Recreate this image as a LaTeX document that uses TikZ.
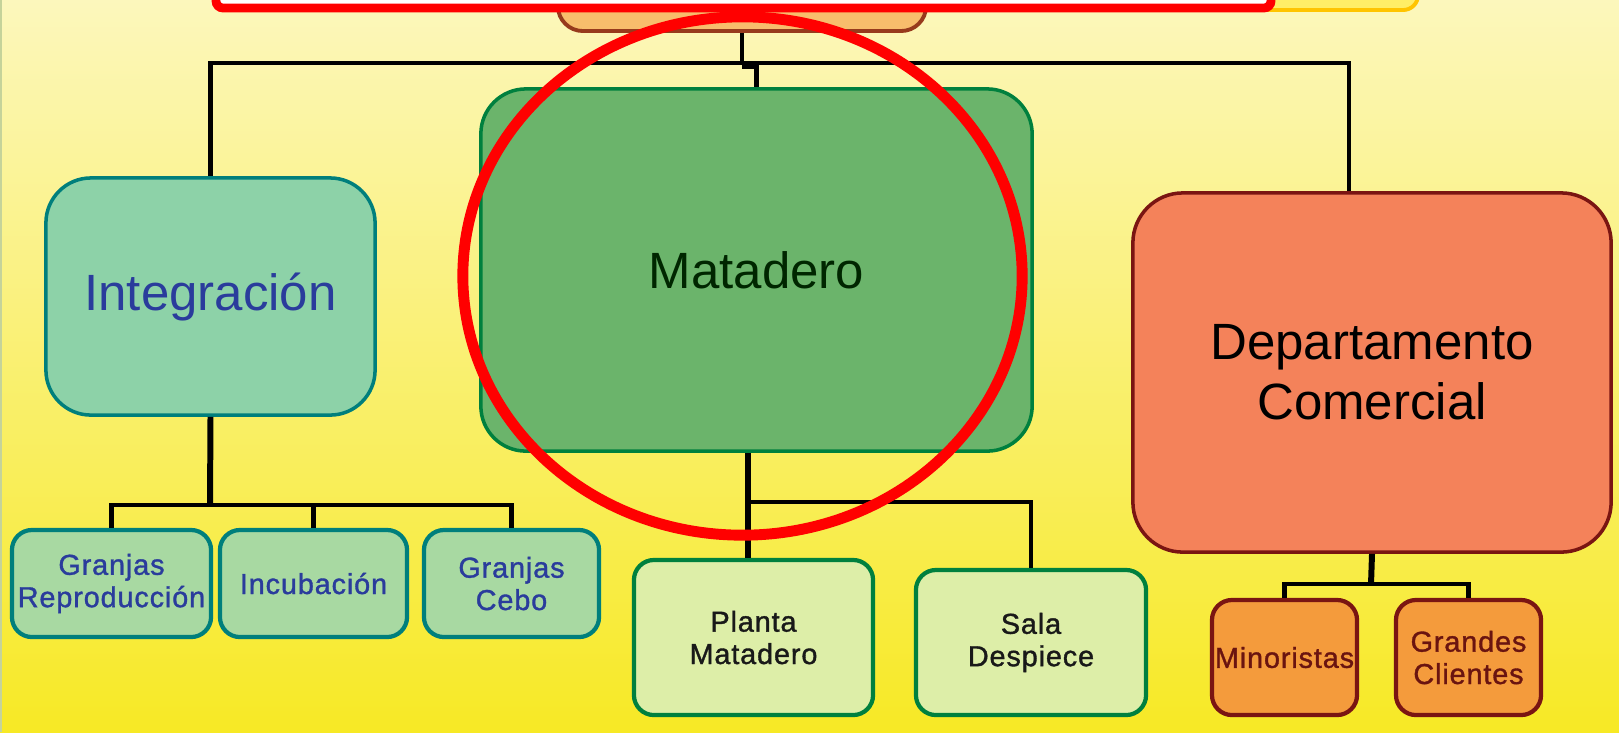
\documentclass[tikz,border=0pt]{standalone}
\usepackage{fontspec}
\setmainfont{Liberation Sans}
\usetikzlibrary{positioning}

\definecolor{bgtop}{HTML}{FCF7BC}
\definecolor{bgmid}{HTML}{FAF08A}
\definecolor{bgbot}{HTML}{F7E925}
\definecolor{integfill}{HTML}{8DD2A8}
\definecolor{tealfill}{HTML}{A8D9A2}
\definecolor{tealline}{HTML}{007F7C}
\definecolor{txtblue}{HTML}{2A3C9C}
\definecolor{matfill}{HTML}{6BB46B}
\definecolor{matline}{HTML}{00803E}
\definecolor{palefill}{HTML}{DDEEA8}
\definecolor{depfill}{HTML}{F4825A}
\definecolor{depline}{HTML}{7A1512}
\definecolor{orfill}{HTML}{F49B3C}
\definecolor{ortxt}{HTML}{6A1410}
\definecolor{dirfill}{HTML}{F8BD6C}
\definecolor{dirline}{HTML}{973A1C}
\definecolor{yelfill}{HTML}{FFEE66}
\definecolor{yelline}{HTML}{FFC400}
\definecolor{edge}{HTML}{C5D39A}

\tikzset{
  bigbox/.style={draw, line width=1pt, rounded corners=0.45cm, align=center,
    inner sep=0pt, font=\fontsize{14.5}{17}\selectfont},
  smallbox/.style={draw, line width=1.2pt, rounded corners=0.2cm, align=center,
    inner sep=0pt, font=\fontsize{8.2}{9.2}\selectfont\addfontfeature{LetterSpace=3,FakeBold=1.2}},
  link/.style={line width=1.2pt, black},
  linkthick/.style={line width=1.7pt, black},
  redmark/.style={draw=red, line width=3.1pt},
}

\begin{document}
\begin{tikzpicture}[x=0.01cm, y=-0.01cm]

% Fix the page and clip to it
\useasboundingbox (0,0) rectangle (1619,732);
\clip (0,0) rectangle (1619,732);

% Background
\shade[top color=bgtop, middle color=bgmid, bottom color=bgbot] (0,0) rectangle (1619,732);
\draw[edge, line width=0.6pt] (1,0) -- (1,732);

% Boxes at the top, mostly cut off
\node[draw=yelline, fill=yelfill, line width=1.1pt, rounded corners=0.15cm,
  minimum width=2.2cm, minimum height=0.5cm] (aux) at (1308,-15) {};
\node[draw=dirline, fill=dirfill, line width=1.1pt, rounded corners=0.25cm,
  minimum width=3.68cm, minimum height=1cm] (direccion) at (742,-19) {};

% Main departments
\node[bigbox, draw=tealline, fill=integfill, text=txtblue,
  minimum width=3.29cm, minimum height=2.37cm] (integ) at (210.5,296.5) {Integración};
\node[bigbox, draw=matline, fill=matfill, text=black!85!green,
  minimum width=5.51cm, minimum height=3.62cm] (mat) at (756.5,270) {Matadero};
\node[bigbox, draw=depline, fill=depfill, rounded corners=0.5cm,
  minimum width=4.78cm, minimum height=3.59cm] (dep) at (1372,372.5) {Departamento\\Comercial};

% Sections of Integración
\node[smallbox, draw=tealline, fill=tealfill, text=txtblue,
  minimum width=1.99cm, minimum height=1.07cm] (granrep) at (111.5,583.5) {Granjas\\Reproducción};
\node[smallbox, draw=tealline, fill=tealfill, text=txtblue,
  minimum width=1.87cm, minimum height=1.07cm] (incub) at (313.5,583.5) {Incubación};
\node[smallbox, draw=tealline, fill=tealfill, text=txtblue,
  minimum width=1.75cm, minimum height=1.07cm] (grancebo) at (511.5,583.5) {Granjas\\Cebo};

% Sections of Matadero
\node[smallbox, draw=matline, fill=palefill, text=black!90,
  minimum width=2.39cm, minimum height=1.55cm] (planta) at (753.5,637.5) {Planta\\Matadero};
\node[smallbox, draw=matline, fill=palefill, text=black!90,
  minimum width=2.30cm, minimum height=1.45cm] (sala) at (1031,642.5) {Sala\\Despiece};

% Sections of Departamento Comercial
\node[smallbox, draw=depline, fill=orfill, text=ortxt,
  minimum width=1.45cm, minimum height=1.15cm] (minor) at (1284.5,657.5) {Minoristas};
\node[smallbox, draw=depline, fill=orfill, text=ortxt,
  minimum width=1.45cm, minimum height=1.15cm] (grandes) at (1468.5,657.5) {Grandes\\Clientes};

% Upper connectors
\coordinate (topbar) at (744,63);
\draw[link] (direccion.south) |- (topbar);
\draw[link] (integ.north) |- (topbar) -| ([xshift=-0.23cm]dep.north);
\draw[link] (topbar) -- ++(0,4) -| (mat.north);

% Connectors below Integración
\coordinate (ibar) at (210,505);
\draw[linkthick] (integ.south) -- (ibar);
\draw[link] (granrep.north) |- (ibar) -| (grancebo.north);
\draw[link] (incub.north) -- (incub.north |- ibar);

% Connectors below Matadero
\coordinate (mbar) at (748,502);
\draw[linkthick] ([xshift=-0.055cm]planta.north) -- ([xshift=-0.055cm]planta.north |- mat.south);
\draw[link] (mbar) -| (sala.north);

% Connectors below Departamento Comercial
\coordinate (dbar) at (1371,584);
\draw[linkthick] (dep.south) -- (dbar);
\draw[link] (minor.north) |- (dbar) -| (grandes.north);

% Red marks on top
\draw[redmark] (742.5,276) ellipse [x radius=2.795cm, y radius=2.59cm];
\draw[draw=red, line width=2.5pt, fill=white, rounded corners=2pt] (216,-30) rectangle (1271,8);

\end{tikzpicture}
\end{document}
